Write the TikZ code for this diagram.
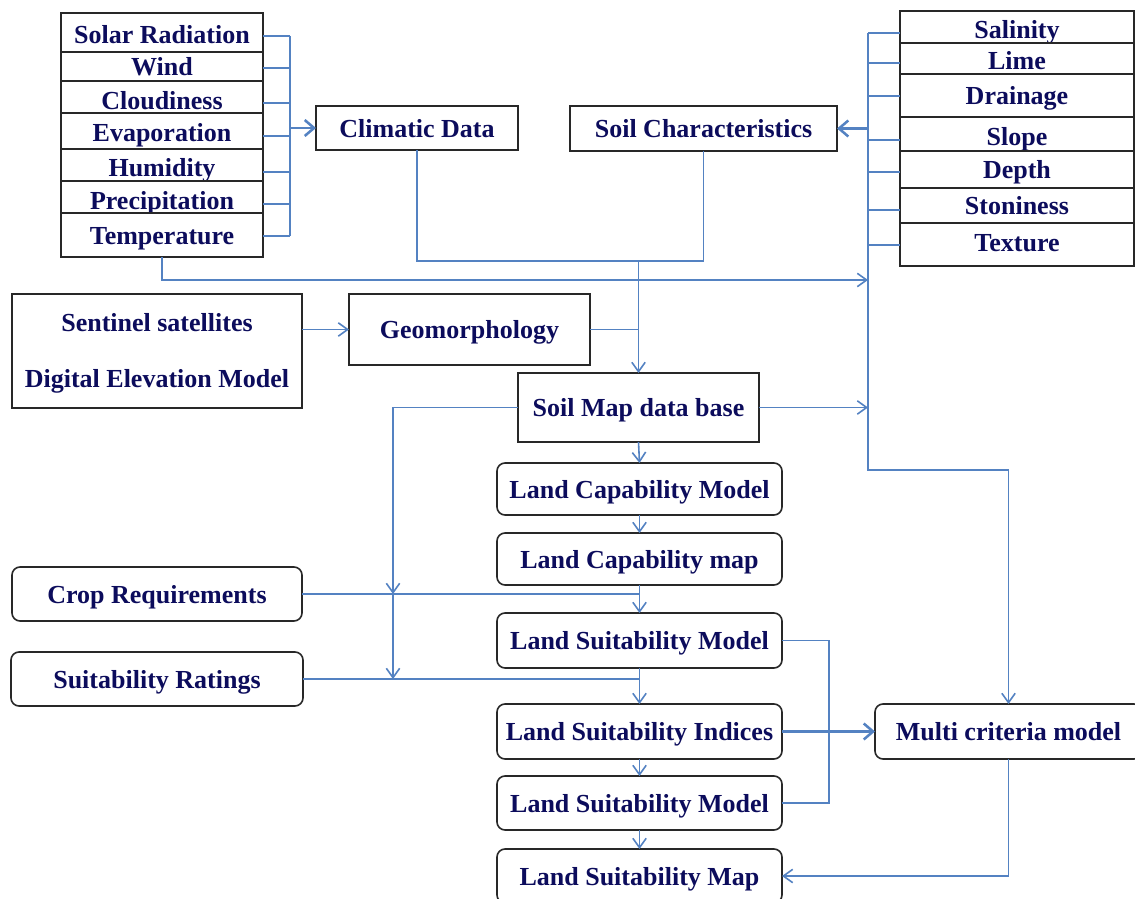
\documentclass[tikz,border=0pt]{standalone}
\usepackage{fontspec}
\setmainfont{Liberation Serif}
\usetikzlibrary{arrows.meta}
\definecolor{txt}{RGB}{12,12,92}
\definecolor{lnc}{RGB}{84,130,194}
\definecolor{bd}{RGB}{40,40,40}
\newcommand\mkbox[7]{\node[#1,minimum width={(#5-#3)*0.75pt},minimum height={(#6-#4)*0.75pt}] (#2) at ({(#3+#5)/2},{(#4+#6)/2}) {#7};}
\begin{document}
\begin{tikzpicture}[x=0.75pt,y=-0.75pt,
 base/.style={draw=bd,line width=1.2pt,fill=white,inner sep=0pt,outer sep=0pt,text=txt,font=\fontsize{19.5}{22}\selectfont\bfseries},
 box/.style={base,text height=16pt,text depth=2pt},
 rbox/.style={box,rounded corners=6pt},
 dn/.style={text height={16pt+0.75pt*#1},text depth={2pt-0.75pt*#1}},
 ln/.style={draw=lnc,line width=1.2pt},
 arr/.style={ln,-{Straight Barb[length=7pt,width=10pt]}},
 barr/.style={draw=lnc,line width=1.9pt,-{Straight Barb[length=7pt,width=12pt]}},
]
\useasboundingbox (0,0) rectangle (1135,899);
% left stack
\mkbox{box,dn=2}{solar}{61}{13}{263}{52}{Solar Radiation}
\mkbox{box}{wind}{61}{52}{263}{81}{Wind}
\mkbox{box,dn=3}{cloud}{61}{81}{263}{113}{Cloudiness}
\mkbox{box,dn=1}{evap}{61}{113}{263}{149}{Evaporation}
\mkbox{box,dn=2}{humid}{61}{149}{263}{181}{Humidity}
\mkbox{box,dn=3}{precip}{61}{181}{263}{213}{Precipitation}
\mkbox{box}{temp}{61}{213}{263}{257}{Temperature}
% right stack
\mkbox{box,dn=2}{sal}{900}{11}{1134}{43}{Salinity}
\mkbox{box,dn=2}{lime}{900}{43}{1134}{74}{Lime}
\mkbox{box}{drain}{900}{74}{1134}{117}{Drainage}
\mkbox{box,dn=2}{slope}{900}{117}{1134}{151}{Slope}
\mkbox{box}{depth}{900}{151}{1134}{188}{Depth}
\mkbox{box}{stone}{900}{188}{1134}{223}{Stoniness}
\mkbox{box,dn=-2}{texture}{900}{223}{1134}{266}{Texture}
% other boxes
\mkbox{box}{clim}{316}{106}{518}{150}{Climatic Data}
\mkbox{box}{soil}{570}{106}{837}{151}{Soil Characteristics}
\mkbox{base,align=center}{sent}{12}{294}{302}{408}{\rule{0pt}{17pt}Sentinel satellites\\[20pt]Digital Elevation Model}
\mkbox{box}{geo}{349}{294}{590}{365}{Geomorphology}
\mkbox{box}{smap}{518}{373}{759}{442}{Soil Map data base}
\mkbox{rbox}{lcm}{497}{463}{782}{515}{Land Capability Model}
\mkbox{rbox}{lcmap}{497}{533}{782}{585}{Land Capability map}
\mkbox{rbox}{lsm}{497}{613}{782}{668}{Land Suitability Model}
\mkbox{rbox}{lsi}{497}{704}{782}{759}{Land Suitability Indices}
\mkbox{rbox}{lsmb}{497}{776}{782}{830}{Land Suitability Model}
\mkbox{rbox}{lsmap}{497}{849}{782}{903}{Land Suitability Map}
\mkbox{rbox}{crop}{12}{567}{302}{621}{Crop Requirements}
\mkbox{rbox}{rat}{11}{652}{303}{706}{Suitability Ratings}
\mkbox{rbox}{mc}{875}{704}{1142}{759}{Multi criteria model}
% left bus
\foreach \n/\y in {solar/36,wind/68,cloud/103,evap/136,humid/172,precip/204,temp/236}{
  \coordinate (L\n) at (290,\y);
  \draw[ln] (L\n -| \n.east) -- (L\n);}
\draw[ln] (Lsolar) -- (Ltemp);
\draw[barr] (Lsolar |- clim.west) -- (clim.west);
% right bus
\foreach \n/\y in {sal/33,lime/63,drain/96,slope/140,depth/172,stone/210,texture/245}{
  \coordinate (R\n) at (868,\y);
  \draw[ln] (R\n -| \n.west) -- (R\n);}
\coordinate (rbend) at (868,470);
\draw[arr] (Rsal) -- (rbend) -| (mc.north);
\draw[barr] (Rsal |- soil.east) -- (soil.east);
% climatic + soil to soil map
\coordinate (j1) at (638.5,261);
\draw[ln] (clim.south) |- (j1) -| (soil.south);
\draw[arr] (j1) -- (smap.north);
\draw[ln] (geo.east) -- (geo.east -| j1);
\coordinate (tb) at (868,280);
\draw[arr] (temp.south) |- (tb);
\draw[arr] (sent.east |- geo.west) -- (geo.west);
\draw[arr] (smap.east) -- (smap.east -| rbend);
% soil map to left vertical
\coordinate (k1) at (393,594);
\draw[arr] (smap.west) -| (k1);
\draw[arr] (k1) -- (k1 |- rat.east);
\draw[ln] (crop.east) -- (crop.east -| lsm.north);
\draw[ln] (rat.east) -- (rat.east -| lsi.north);
% chain
\draw[arr] (smap.south) -- (lcm.north);
\draw[arr] (lcm.south) -- (lcmap.north);
\draw[arr] (lcmap.south) -- (lsm.north);
\draw[arr] (lsm.south) -- (lsi.north);
\draw[arr] (lsi.south) -- (lsmb.north);
\draw[arr] (lsmb.south) -- (lsmap.north);
% side loop
\coordinate (s1) at (829,0);
\draw[ln] (lsm.east) -- (lsm.east -| s1) -- (s1 |- lsmb.east) -- (lsmb.east);
\draw[barr] (lsi.east) -- (mc.west);
\draw[arr] (mc.south) |- (lsmap.east);
\end{tikzpicture}
\end{document}
